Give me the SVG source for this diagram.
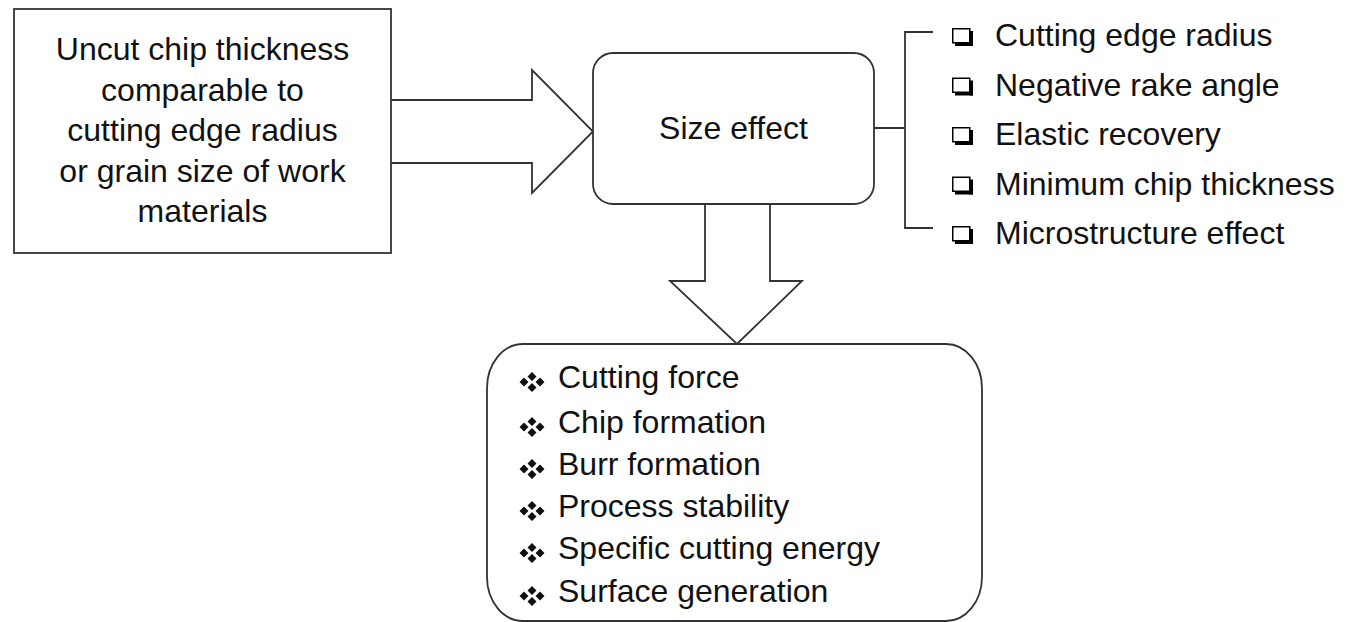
<svg xmlns="http://www.w3.org/2000/svg" width="1346" height="622" viewBox="0 0 1346 622">
<style>
.t{font-family:"Liberation Sans",Arial,sans-serif;font-size:32px;fill:#111}
.m{text-anchor:middle}
.ln{fill:none;stroke:#333;stroke-width:1.8}
.bx{fill:#fff;stroke:#333;stroke-width:1.8}
</style>
<defs>
<g id="chk">
<rect x="0.75" y="0.75" width="17" height="14" fill="#fff" stroke="#000" stroke-width="1.5"/>
<rect x="3" y="14.5" width="18" height="3.5" fill="#000"/>
<rect x="17.5" y="3" width="3.5" height="15" fill="#000"/>
</g>
<g id="dia">
<path d="M0,-10 L4.5,-5.5 L0,-1 L-4.5,-5.5Z M0,1 L4.5,5.5 L0,10 L-4.5,5.5Z M-12.5,0 L-8,-4.5 L-3.5,0 L-8,4.5Z M3.5,0 L8,-4.5 L12.5,0 L8,4.5Z" fill="#111"/>
</g>
</defs>
<rect width="1346" height="622" fill="#fff"/>

<g id="connectors">
<path class="ln" d="M391,100 H532 V70 L593,131.5 L532,193 V163 H391"/>
<path class="ln" d="M705,204 V281 H670 L737,344 L802,281 H770 V204"/>
<path class="ln" d="M874,128 H905 M933,32 H905 V228 H933"/>
</g>

<g id="input">
<rect class="bx" x="14" y="9" width="377" height="244"/>
<text class="t m" x="202.5" y="60">Uncut chip thickness</text>
<text class="t m" x="202.5" y="101">comparable to</text>
<text class="t m" x="202.5" y="141">cutting edge radius</text>
<text class="t m" x="202.5" y="182">or grain size of work</text>
<text class="t m" x="202.5" y="222">materials</text>
</g>

<g id="size-effect">
<rect class="bx" x="593" y="53" width="281" height="151" rx="20" ry="20"/>
<text class="t m" x="733.5" y="139">Size effect</text>
</g>

<g id="causes">
<use href="#chk" x="952" y="28"/>
<text class="t" x="995" y="46">Cutting edge radius</text>
<use href="#chk" x="952" y="77.5"/>
<text class="t" x="995" y="95.5">Negative rake angle</text>
<use href="#chk" x="952" y="127"/>
<text class="t" x="995" y="145">Elastic recovery</text>
<use href="#chk" x="952" y="176.5"/>
<text class="t" x="995" y="194.5">Minimum chip thickness</text>
<use href="#chk" x="952" y="226"/>
<text class="t" x="995" y="244">Microstructure effect</text>
</g>

<g id="outcomes">
<rect class="bx" x="487" y="344" width="495" height="277" rx="36" ry="44"/>
<use href="#dia" x="532" y="382"/>
<text class="t" x="558" y="388">Cutting force</text>
<use href="#dia" x="532" y="427"/>
<text class="t" x="558" y="433">Chip formation</text>
<use href="#dia" x="532" y="469"/>
<text class="t" x="558" y="475">Burr formation</text>
<use href="#dia" x="532" y="511"/>
<text class="t" x="558" y="517">Process stability</text>
<use href="#dia" x="532" y="553"/>
<text class="t" x="558" y="559">Specific cutting energy</text>
<use href="#dia" x="532" y="596"/>
<text class="t" x="558" y="602">Surface generation</text>
</g>
</svg>
